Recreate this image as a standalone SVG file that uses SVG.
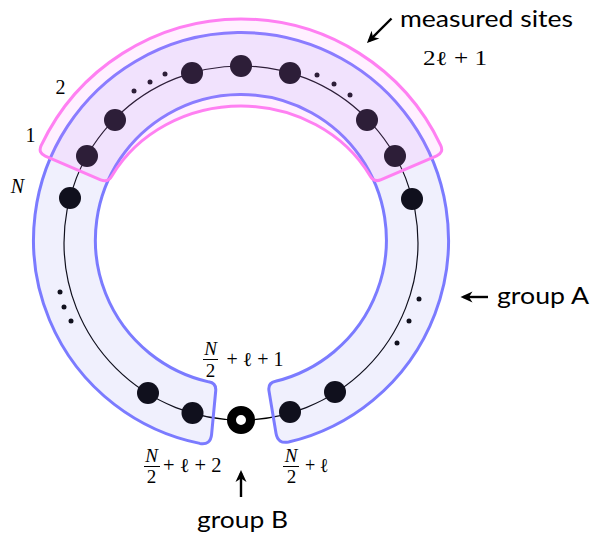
<svg xmlns="http://www.w3.org/2000/svg" width="595" height="537" viewBox="0 0 595 537">
<defs>
<style>
.ring{fill:none;stroke:#000;stroke-width:1.2}
.arrow{stroke:#000;stroke-width:2.4;fill:none;marker-end:url(#ah)}
.site{fill:#000}
.dot{fill:#000}
.open{fill:#fff;stroke:#000;stroke-width:9}
.bandA{fill:#8080f0;fill-opacity:0.12;stroke:#7b7bff;stroke-width:3}
.bandM{fill:#ff80ff;fill-opacity:0.12;stroke:#ff80f2;stroke-width:3}
.sans{font-family:Lato,"Open Sans","DejaVu Sans",sans-serif;font-size:24px;fill:#000}
.math{font-family:"Liberation Serif","DejaVu Serif",serif;font-size:20px;fill:#000}
.frac{font-size:19px}
.it{font-style:italic}
.bar{stroke:#000;stroke-width:1}
</style>
<marker id="ah" viewBox="-10 -6 14 12" refX="0" refY="0" markerWidth="14" markerHeight="12" orient="auto" markerUnits="userSpaceOnUse"><path d="M3,0 L-9,-5.5 L-5.5,0 L-9,5.5 Z" fill="#000"/></marker>
</defs>
<rect x="0" y="0" width="595" height="537" fill="#fff"/>
<g id="connectors">
<circle class="ring" cx="241" cy="243" r="177"/>
<line class="arrow" x1="391.5" y1="18.5" x2="369.1" y2="40.9"/>
<line class="arrow" x1="488" y1="297" x2="463.5" y2="297"/>
<line class="arrow" x1="241" y1="497" x2="241" y2="473"/>
</g>
<g id="ellipsis-dots">
<circle class="dot" cx="134" cy="91" r="2.5"/>
<circle class="dot" cx="150" cy="82" r="2.5"/>
<circle class="dot" cx="165" cy="74" r="2.5"/>
<circle class="dot" cx="317" cy="75" r="2.5"/>
<circle class="dot" cx="334" cy="84" r="2.5"/>
<circle class="dot" cx="350" cy="95" r="2.5"/>
<circle class="dot" cx="60" cy="292" r="2.5"/>
<circle class="dot" cx="64" cy="307" r="2.5"/>
<circle class="dot" cx="71" cy="321" r="2.5"/>
<circle class="dot" cx="419" cy="299" r="2.5"/>
<circle class="dot" cx="409" cy="321" r="2.5"/>
<circle class="dot" cx="397" cy="343" r="2.5"/>
</g>
<g id="site-top"><circle class="site" cx="241" cy="66" r="11"/></g>
<g id="site-2"><circle class="site" cx="192" cy="73" r="11"/></g>
<g id="site-top-r1"><circle class="site" cx="290" cy="73" r="11"/></g>
<g id="site-1b"><circle class="site" cx="115" cy="120" r="11"/></g>
<g id="site-r2"><circle class="site" cx="367" cy="120" r="11"/></g>
<g id="site-1"><circle class="site" cx="87" cy="156" r="11"/></g>
<g id="site-r3"><circle class="site" cx="395" cy="156" r="11"/></g>
<g id="site-N"><circle class="site" cx="70" cy="198" r="11"/></g>
<g id="site-r4"><circle class="site" cx="412" cy="199" r="11"/></g>
<g id="site-l5"><circle class="site" cx="148" cy="393" r="11"/></g>
<g id="site-r5"><circle class="site" cx="335" cy="392" r="11"/></g>
<g id="site-N2-l2"><circle class="site" cx="192.5" cy="413" r="11"/></g>
<g id="site-N2-l"><circle class="site" cx="290" cy="412" r="11"/></g>
<g id="site-N2-l1"><circle class="open" cx="241" cy="420" r="9.5"/></g>
<g id="group-A-band">
<path class="bandA" d="M215.7,391 L211.6,434.4 Q210.6,445.3 199.8,443.4 A207.5,207.5 0 1 1 288.6,442 Q277.85,444.2 276,433.3 L269,390.9 Q267.7,383 275.5,381.3 A145.5,145.5 0 1 0 208.6,381.85 Q216.5,383 215.7,391 Z"/>
</g>
<g id="measured-band">
<path class="bandM" d="M45.3,156.1 L100.6,179.8 Q108,183 112,175.8 A147,134 0 0 1 370,175.8 Q373.9,182.8 381.2,179.6 L436.7,155.8 Q444,152.6 440.7,145.3 A221,221 0 0 0 41.1,145.7 Q37.9,152.95 45.3,156.1 Z"/>
</g>
<g id="labels">
<text class="sans" x="400" y="27" textLength="173" lengthAdjust="spacingAndGlyphs">measured sites</text>
<text class="math" x="423" y="65" font-size="22" textLength="64" lengthAdjust="spacingAndGlyphs">2ℓ + 1</text>
<text class="sans" x="497" y="304" textLength="92" lengthAdjust="spacingAndGlyphs">group A</text>
<text class="sans" x="197" y="528" textLength="91" lengthAdjust="spacingAndGlyphs">group B</text>
<text class="math" x="60.5" y="94" font-size="23" text-anchor="middle">2</text>
<text class="math" x="30.5" y="142" font-size="19" text-anchor="middle">1</text>
<text class="math it" x="17.5" y="193" font-size="17" text-anchor="middle">N</text>
<text class="math frac it" x="210.5" y="355" text-anchor="middle">N</text>
<line class="bar" x1="203" y1="359.5" x2="218" y2="359.5"/>
<text class="math frac" x="210.5" y="376.5" text-anchor="middle">2</text>
<text class="math" x="226.5" y="366" textLength="57" lengthAdjust="spacingAndGlyphs">+ ℓ + 1</text>
<text class="math frac it" x="151.5" y="461.5" text-anchor="middle">N</text>
<line class="bar" x1="144" y1="466.5" x2="160" y2="466.5"/>
<text class="math frac" x="151.5" y="483" text-anchor="middle">2</text>
<text class="math" x="163" y="472" textLength="58.5" lengthAdjust="spacingAndGlyphs">+ ℓ + 2</text>
<text class="math frac it" x="291" y="461.5" text-anchor="middle">N</text>
<line class="bar" x1="283" y1="466.5" x2="299" y2="466.5"/>
<text class="math frac" x="291.5" y="483" text-anchor="middle">2</text>
<text class="math" x="305" y="472" textLength="23.5" lengthAdjust="spacingAndGlyphs">+ ℓ</text>
</g>
</svg>
